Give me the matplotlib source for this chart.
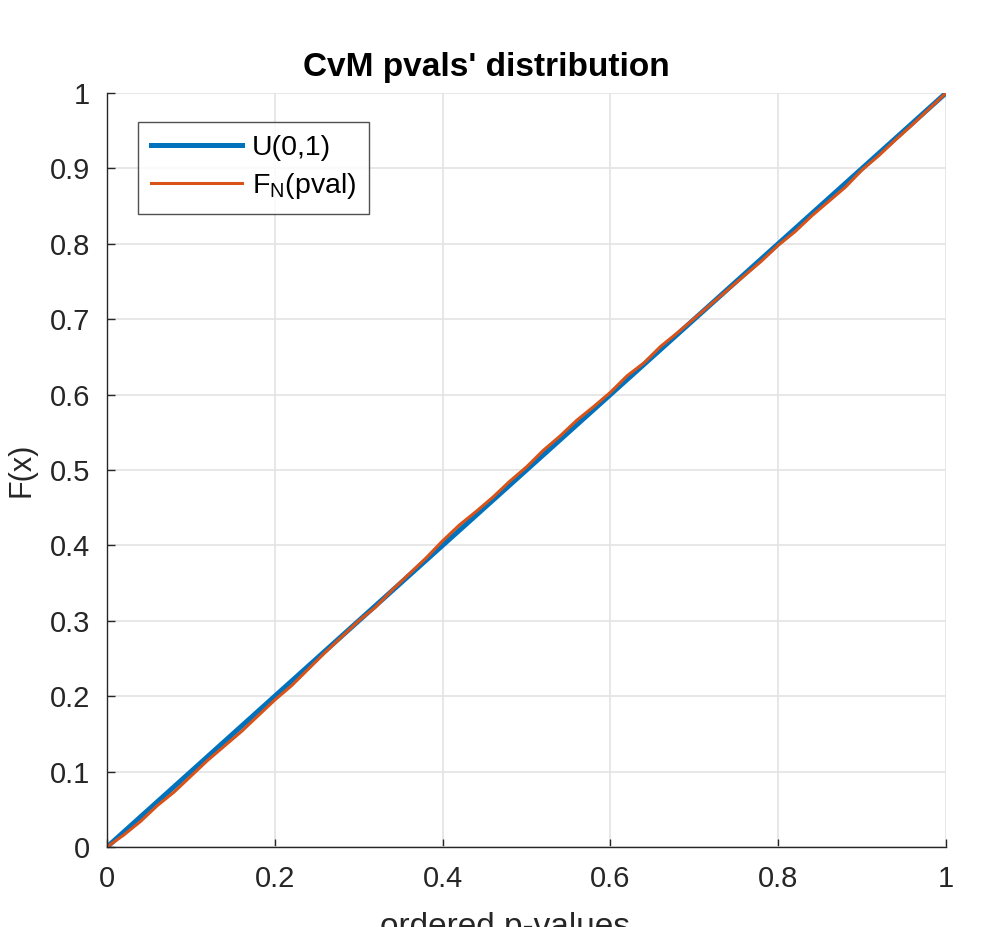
import numpy as np
import matplotlib
matplotlib.use('Agg')
import matplotlib.pyplot as plt

plt.rcParams['font.family'] = ['Liberation Sans', 'DejaVu Sans']

pvals = [0.00, 0.02, 0.04, 0.06, 0.08, 0.10, 0.12, 0.14, 0.16, 0.18,
         0.20, 0.22, 0.24, 0.26, 0.28, 0.30, 0.32, 0.34, 0.36, 0.38,
         0.40, 0.42, 0.44, 0.46, 0.48, 0.50, 0.52, 0.54, 0.56, 0.58,
         0.60, 0.62, 0.64, 0.66, 0.68, 0.70, 0.72, 0.74, 0.76, 0.78,
         0.80, 0.82, 0.84, 0.86, 0.88, 0.90, 0.92, 0.94, 0.96, 0.98, 1.00]
ecdf = [0.000, 0.016, 0.034, 0.055, 0.073, 0.094, 0.115, 0.134, 0.153, 0.174,
        0.195, 0.214, 0.236, 0.258, 0.279, 0.300, 0.318, 0.341, 0.362, 0.383,
        0.406, 0.427, 0.445, 0.464, 0.485, 0.504, 0.526, 0.545, 0.566, 0.584,
        0.603, 0.625, 0.642, 0.664, 0.682, 0.701, 0.720, 0.739, 0.758, 0.777,
        0.798, 0.816, 0.837, 0.856, 0.875, 0.898, 0.917, 0.938, 0.958, 0.979, 1.000]
uni_x = [0, 1]
uni_y = [0, 1]

fig = plt.figure(figsize=(10.04, 9.27), dpi=100)
ax = fig.add_axes([0.1066, 0.0863, 0.8356, 0.8134])

ax.plot(uni_x, uni_y, color='#0072BD', lw=3.6, label='U(0,1)')
ax.plot(pvals, ecdf, color='#D95319', lw=2.2, label='F$_\\mathregular{N}$(pval)')

ax.set_xlim(0, 1)
ax.set_ylim(0, 1)
ax.set_xticks(np.arange(0, 1.01, 0.2))
ax.set_yticks(np.arange(0, 1.01, 0.1))
ax.set_xticklabels(['0', '0.2', '0.4', '0.6', '0.8', '1'])
ax.set_yticklabels(['0', '0.1', '0.2', '0.3', '0.4', '0.5', '0.6', '0.7', '0.8', '0.9', '1'])
ax.grid(True, color='#e3e3e3', lw=1.2)
ax.set_axisbelow(True)
for s in ['top', 'right']:
    ax.spines[s].set_visible(False)
for s in ['left', 'bottom']:
    ax.spines[s].set_color('#262626')
    ax.spines[s].set_linewidth(1.0)
ax.tick_params(direction='in', length=6, width=1, colors='#262626', labelsize=21)
ax.tick_params(axis='x', pad=13)
ax.tick_params(axis='y', pad=12)

t = ax.set_title("CvM pvals' distribution", fontsize=24, fontweight='bold', pad=12)
t.set_x(0.452)
ax.set_xlabel('ordered p-values', fontsize=24, color='#262626', labelpad=14)
ax.xaxis.label.set_x(0.474)
ax.set_ylabel('F(x)', fontsize=22, color='#262626', labelpad=10)

leg = ax.legend(loc='upper left', bbox_to_anchor=(0.037, 0.9615), borderaxespad=0,
                fontsize=20.5, fancybox=False, handlelength=3.2, handletextpad=0.35,
                borderpad=0.45, labelspacing=0.35)
leg.get_frame().set_edgecolor('#262626')
leg.get_frame().set_linewidth(1.0)

fig.savefig('out.png', dpi=100)
